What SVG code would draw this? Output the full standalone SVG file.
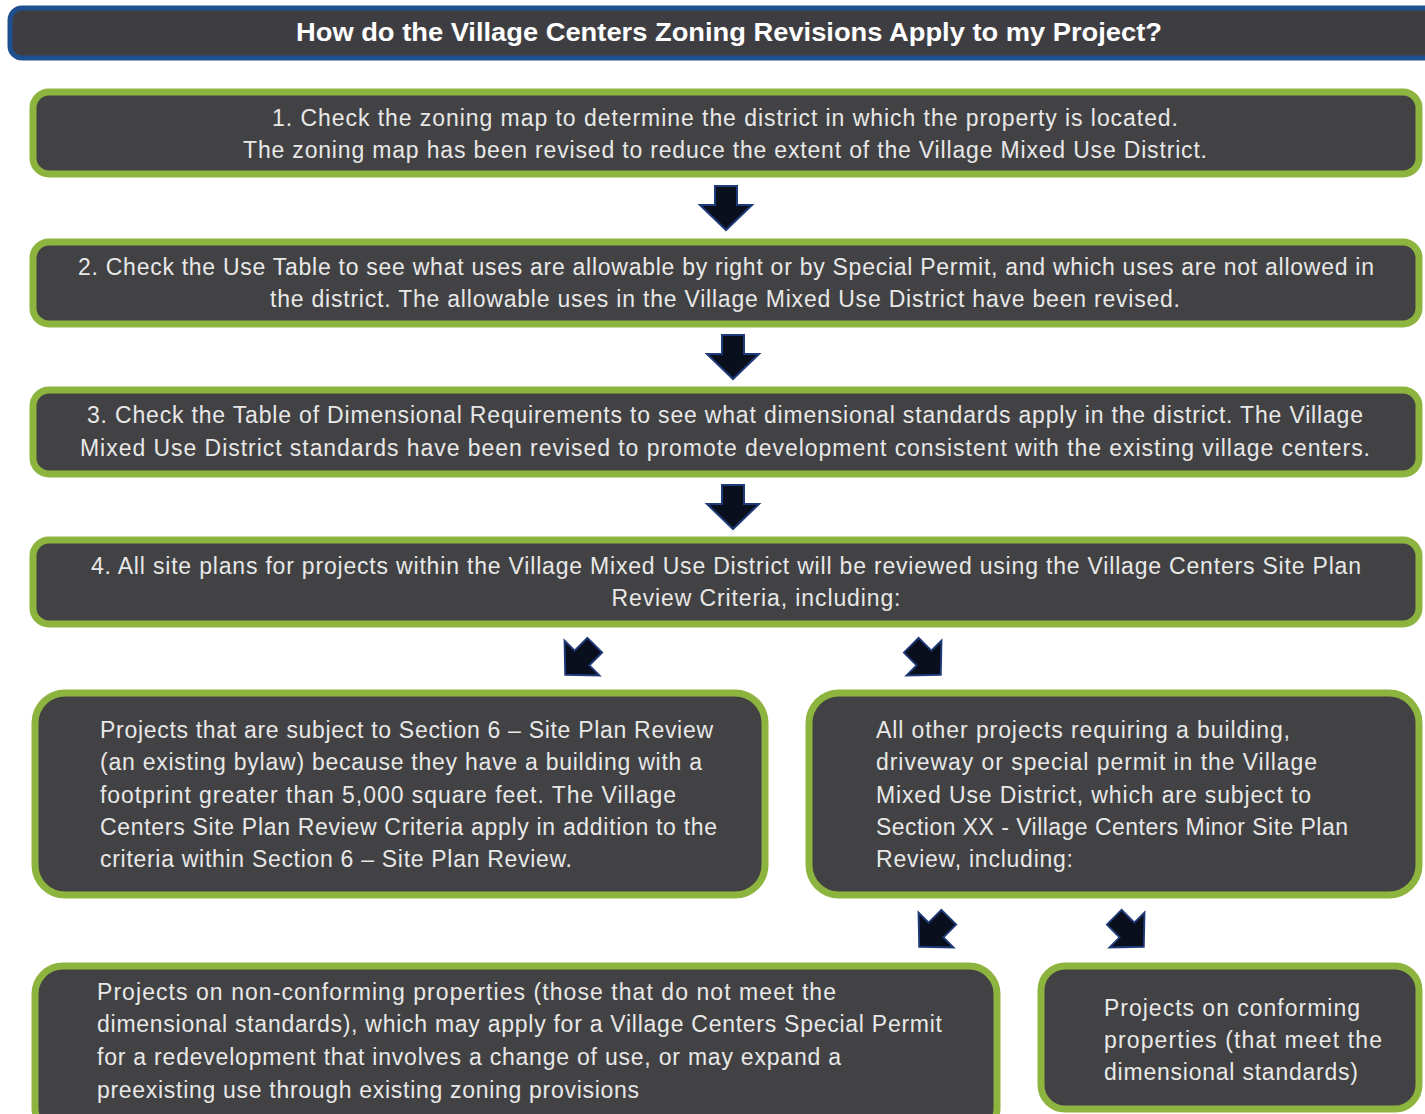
<svg xmlns="http://www.w3.org/2000/svg" width="1425" height="1114" viewBox="0 0 1425 1114">
<style>
.box{fill:#424244;stroke:#8db43e;stroke-width:7}
.t{font-family:"Liberation Sans",Arial,sans-serif;font-size:23px;fill:#e8e8e8}
.title{font-family:"Liberation Sans",Arial,sans-serif;font-size:25px;font-weight:bold;fill:#ffffff}
.arr{fill:#0a0f1e;stroke:#1f3a78;stroke-width:2;stroke-linejoin:miter}
</style>
<defs>
<path id="dn" d="M-11,-22 L11,-22 L11,-3 L26,-3 L0,22 L-26,-3 L-11,-3 Z"/>
</defs>
<rect width="1425" height="1114" fill="#ffffff"/>
<g id="title">
<rect x="10" y="8" width="1440" height="50" rx="12" fill="#3e3e42" stroke="#1e4f8f" stroke-width="5"/>
<text class="title" x="729" y="41" text-anchor="middle" textLength="866" lengthAdjust="spacingAndGlyphs">How do the Village Centers Zoning Revisions Apply to my Project?</text>
</g>
<g id="step1">
<rect class="box" x="33" y="92" width="1386" height="82" rx="16"/>
<text class="t" x="725" y="126" text-anchor="middle" textLength="906" lengthAdjust="spacing">1. Check the  zoning map to  determine the district in which the property is located.</text>
<text class="t" x="725" y="158" text-anchor="middle" textLength="964" lengthAdjust="spacing">The zoning map has been  revised to reduce the extent of the  Village Mixed Use District.</text>
</g>
<g id="step2">
<rect class="box" x="33" y="242" width="1386" height="82" rx="16"/>
<text class="t" x="726" y="275" text-anchor="middle" textLength="1296" lengthAdjust="spacing">2. Check the  Use Table to see what  uses are allowable by right or by Special Permit, and which uses  are not allowed in</text>
<text class="t" x="725" y="307" text-anchor="middle" textLength="910" lengthAdjust="spacing">the district. The allowable uses in the Village Mixed Use District have been revised.</text>
</g>
<g id="step3">
<rect class="box" x="33" y="390" width="1386" height="84" rx="16"/>
<text class="t" x="725" y="423" text-anchor="middle" textLength="1276" lengthAdjust="spacing">3. Check the  Table of Dimensional Requirements to see what dimensional standards apply in the district. The Village</text>
<text class="t" x="725" y="456" text-anchor="middle" textLength="1290" lengthAdjust="spacing">Mixed Use District standards have been revised to promote development  consistent  with the existing village centers.</text>
</g>
<g id="step4">
<rect class="box" x="33" y="540" width="1386" height="84" rx="16"/>
<text class="t" x="726" y="574" text-anchor="middle" textLength="1270" lengthAdjust="spacing">4. All site plans for projects within the Village Mixed Use District will be reviewed using the  Village Centers Site Plan</text>
<text class="t" x="756" y="606" text-anchor="middle" textLength="289" lengthAdjust="spacing">Review Criteria, including:</text>
</g>
<g id="section6">
<rect class="box" x="35" y="693" width="730" height="202" rx="30"/>
<text class="t" x="100" y="738" textLength="613" lengthAdjust="spacing">Projects that are subject to Section 6 – Site Plan Review</text>
<text class="t" x="100" y="770" textLength="602" lengthAdjust="spacing">(an existing bylaw) because they have a building with a</text>
<text class="t" x="100" y="803" textLength="576" lengthAdjust="spacing">footprint greater than 5,000 square feet. The Village</text>
<text class="t" x="100" y="835" textLength="617" lengthAdjust="spacing">Centers Site Plan Review Criteria apply in addition to the</text>
<text class="t" x="100" y="867" textLength="472" lengthAdjust="spacing">criteria within Section 6 – Site Plan Review.</text>
</g>
<g id="minor">
<rect class="box" x="809" y="693" width="610" height="202" rx="30"/>
<text class="t" x="876" y="738" textLength="414" lengthAdjust="spacing">All other projects requiring a building,</text>
<text class="t" x="876" y="770" textLength="441" lengthAdjust="spacing">driveway or special permit in the Village</text>
<text class="t" x="876" y="803" textLength="435" lengthAdjust="spacing">Mixed Use District, which are subject to</text>
<text class="t" x="876" y="835" textLength="472" lengthAdjust="spacing">Section XX - Village Centers Minor Site Plan</text>
<text class="t" x="876" y="867" textLength="197" lengthAdjust="spacing">Review, including:</text>
</g>
<g id="nonconforming">
<rect class="box" x="35" y="966" width="962" height="170" rx="28"/>
<text class="t" x="97" y="1000" textLength="739" lengthAdjust="spacing">Projects on  non-conforming properties (those that do not meet the</text>
<text class="t" x="97" y="1032" textLength="845" lengthAdjust="spacing">dimensional standards), which may apply for a Village Centers Special Permit</text>
<text class="t" x="97" y="1065" textLength="744" lengthAdjust="spacing">for a redevelopment that involves a change of use,  or may expand a</text>
<text class="t" x="97" y="1098" textLength="542" lengthAdjust="spacing">preexisting use through existing zoning provisions</text>
</g>
<g id="conforming">
<rect class="box" x="1041" y="966" width="378" height="143" rx="24"/>
<text class="t" x="1104" y="1016" textLength="256" lengthAdjust="spacing">Projects on  conforming</text>
<text class="t" x="1104" y="1048" textLength="278" lengthAdjust="spacing">properties (that meet the</text>
<text class="t" x="1104" y="1080" textLength="254" lengthAdjust="spacing">dimensional standards)</text>
</g>
<g id="connectors">
<use href="#dn" class="arr" transform="translate(726,208)"/>
<use href="#dn" class="arr" transform="translate(733,357)"/>
<use href="#dn" class="arr" transform="translate(733,507)"/>
<use href="#dn" class="arr" transform="translate(580,660) rotate(45) scale(0.95)"/>
<use href="#dn" class="arr" transform="translate(926,660) rotate(-45) scale(0.95)"/>
<use href="#dn" class="arr" transform="translate(934,932) rotate(45) scale(0.95)"/>
<use href="#dn" class="arr" transform="translate(1129,932) rotate(-45) scale(0.95)"/>
</g>
</svg>
